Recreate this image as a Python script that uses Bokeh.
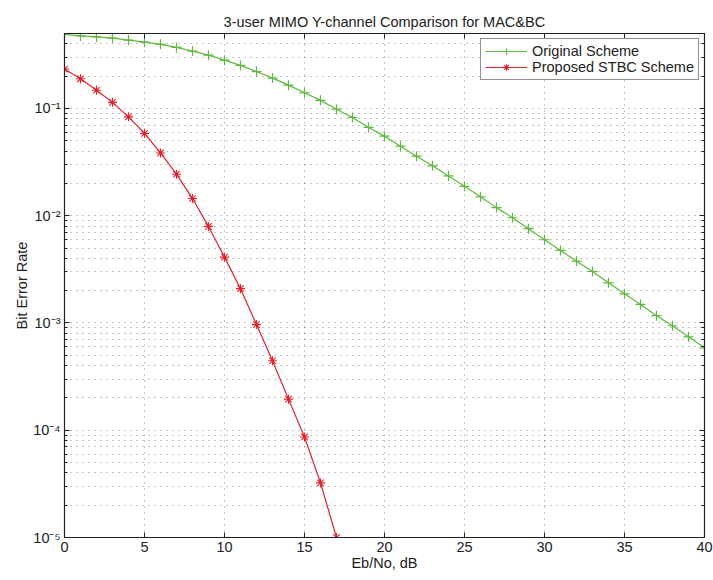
from bokeh.plotting import figure
from bokeh.models import LogAxis, LinearAxis, FixedTicker, CustomJSTickFormatter, Range1d
from bokeh.embed import file_html
from bokeh.resources import INLINE

# ---- data ----
ebno_orig = [0, 1, 2, 3, 4, 5, 6, 7, 8, 9, 10, 11, 12, 13, 14, 15, 16, 17, 18, 19, 20,
             21, 22, 23, 24, 25, 26, 27, 28, 29, 30, 31, 32, 33, 34, 35, 36, 37, 38, 39, 40]
ber_orig = [0.490, 0.475, 0.465, 0.453, 0.434, 0.415, 0.396, 0.371, 0.343, 0.314, 0.282,
            0.252, 0.221, 0.192, 0.165, 0.140, 0.119, 0.0984, 0.0824, 0.0665, 0.0552,
            0.0445, 0.0359, 0.0292, 0.0235, 0.0188, 0.0150, 0.0119, 0.00958, 0.00757, 0.00597,
            0.00475, 0.00377, 0.00302, 0.00237, 0.00187, 0.00149, 0.00117, 0.000942, 0.000743,
            0.000587]
ebno_stbc = [0, 1, 2, 3, 4, 5, 6, 7, 8, 9, 10, 11, 12, 13, 14, 15, 16, 17]
ber_stbc = [0.233, 0.189, 0.148, 0.114, 0.0835, 0.0585, 0.0385, 0.0244, 0.01446, 0.00795,
            0.00411, 0.00209, 0.000966, 0.000445, 0.000195, 8.66e-5, 3.23e-5, 1.0e-5]

x_ticks = [0, 5, 10, 15, 20, 25, 30, 35, 40]
y_ticks = [1e-5, 1e-4, 1e-3, 1e-2, 1e-1]
y_minor = [m * d for d in [1e-5, 1e-4, 1e-3, 1e-2, 1e-1] for m in [2, 3, 4, 5, 6, 7, 8, 9]]

title_text = "3-user MIMO Y-channel Comparison for MAC&BC"
x_label = "Eb/No, dB"
y_label = "Bit Error Rate"
labels = ["Original Scheme", "Proposed STBC Scheme"]

GREEN = "#5cba3c"
RED = "#ea1f26"
FONT = "Liberation Sans"
FS = "14.5px"

p = figure(width=713, height=580, y_axis_type="log",
           x_range=Range1d(0, 40), y_range=Range1d(1e-5, 0.5),
           output_backend="svg", toolbar_location=None, title=title_text,
           min_border_left=64, min_border_right=9, min_border_top=33, min_border_bottom=43)

p.outline_line_color = "#222222"
p.outline_line_width = 1.2
p.background_fill_color = "white"
p.border_fill_color = "white"

p.title.text_font = FONT
p.title.text_font_style = "normal"
p.title.text_font_size = FS
p.title.align = "center"
p.title.text_color = "#222222"
p.title.standoff = 8

xticker = FixedTicker(ticks=x_ticks)
yticker = FixedTicker(ticks=y_ticks, minor_ticks=y_minor)

fmt = CustomJSTickFormatter(code="""
const e = Math.round(Math.log10(tick));
const sup = {'-':'\u207b','0':'\u2070','1':'\u00b9','2':'\u00b2','3':'\u00b3','4':'\u2074','5':'\u2075','6':'\u2076','7':'\u2077','8':'\u2078','9':'\u2079'};
return '10' + String(e).split('').map(c => sup[c]).join('');
""")
blank = CustomJSTickFormatter(code="return '';")

for ax in p.xaxis:
    ax.ticker = xticker
    ax.axis_label = x_label
for ax in p.yaxis:
    ax.ticker = yticker
    ax.formatter = fmt
    ax.axis_label = y_label

for ax in list(p.xaxis) + list(p.yaxis):
    ax.major_tick_in = 5
    ax.major_tick_out = 0
    ax.minor_tick_in = 3
    ax.minor_tick_out = 0
    ax.axis_line_color = "#222222"
    ax.major_tick_line_color = "#222222"
    ax.minor_tick_line_color = "#222222"
    ax.major_label_text_font = FONT
    ax.major_label_text_font_size = FS
    ax.major_label_text_color = "#222222"
    ax.axis_label_text_font = FONT
    ax.axis_label_text_font_style = "normal"
    ax.axis_label_text_font_size = FS
    ax.axis_label_text_color = "#222222"
    ax.major_label_standoff = 4
    ax.axis_label_standoff = 0

right = LogAxis(ticker=yticker, formatter=blank, major_label_text_font_size="1px",
                major_label_standoff=0,
                major_tick_in=5, major_tick_out=0, minor_tick_in=3, minor_tick_out=0,
                axis_line_color="#222222", major_tick_line_color="#222222",
                minor_tick_line_color="#222222")
p.add_layout(right, "right")
top = LinearAxis(ticker=xticker, formatter=blank, major_label_text_font_size="1px",
                 major_label_standoff=0,
                 major_tick_in=5, major_tick_out=0, minor_tick_in=0, minor_tick_out=0,
                 axis_line_color="#222222", major_tick_line_color="#222222")
p.add_layout(top, "above")

for g in (p.xgrid, p.ygrid):
    g.grid_line_color = "#000000"
    g.grid_line_alpha = 0.45
    g.grid_line_dash = "1 5"
p.xgrid.ticker = xticker
p.ygrid.ticker = yticker
p.ygrid.minor_grid_line_color = "#000000"
p.ygrid.minor_grid_line_alpha = 0.45
p.ygrid.minor_grid_line_dash = "1 5"

p.line(ebno_orig, ber_orig, color=GREEN, line_width=1.2, legend_label=labels[0])
p.scatter(ebno_orig, ber_orig, marker="cross", size=10, line_color=GREEN, line_width=1.2,
          legend_label=labels[0])
p.line(ebno_stbc, ber_stbc, color=RED, line_width=1.2, legend_label=labels[1])
p.scatter(ebno_stbc, ber_stbc, marker="asterisk", size=9, line_color=RED, line_width=1.1,
          legend_label=labels[1])

lg = p.legend[0]
lg.location = "top_right"
lg.margin = 5
lg.padding = 4
lg.spacing = 0
lg.label_text_font = FONT
lg.label_text_font_size = FS
lg.label_text_color = "#222222"
lg.label_standoff = 5
lg.glyph_width = 42
lg.glyph_height = 16
lg.label_height = 16
lg.border_line_color = "#222222"
lg.border_line_width = 1
lg.background_fill_alpha = 1.0

open("out.html", "w").write(file_html(p, INLINE))
